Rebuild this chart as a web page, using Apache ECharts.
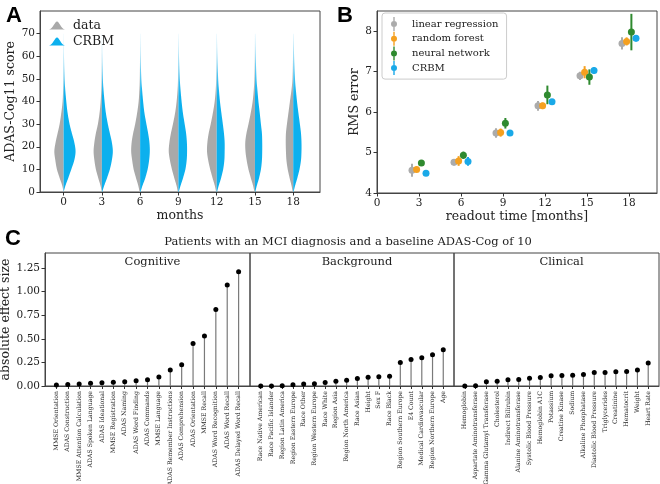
<!DOCTYPE html>
<html><head><meta charset="utf-8">
<script src="https://cdn.jsdelivr.net/npm/echarts/dist/echarts.min.js"></script>
<style>html,body{margin:0;padding:0;background:#fff}#c{width:660px;height:484px}</style>
</head><body><div id="c"></div>
<script>
// ---------- Panel A: violin data ----------
const months = [0, 3, 6, 9, 12, 15, 18];
const violinLevels = [0, 3, 6, 10, 14, 18, 22, 26, 30, 35, 40, 45, 50, 60, 70];
// relative density (half-width) at each level, one row per month
const densityData = [
  [0, 1.5, 3.8, 6.7, 8.3, 9.3, 8.0, 6.0, 4.0, 2.3, 1.0, 0.5, 0.2, 0, 0],
  [0, 1.5, 3.5, 6.0, 7.5, 8.3, 7.5, 6.0, 4.0, 2.3, 1.2, 0.6, 0.3, 0.1, 0],
  [0.5, 2.0, 4.0, 6.5, 8.0, 9.0, 8.5, 7.0, 5.0, 3.0, 1.5, 0.8, 0.4, 0.1, 0],
  [0.5, 2.0, 4.0, 6.5, 8.5, 9.7, 9.0, 7.5, 5.5, 3.3, 1.8, 0.9, 0.4, 0.1, 0],
  [0.5, 2.0, 4.0, 6.5, 8.5, 9.7, 9.3, 8.0, 6.0, 3.8, 2.0, 1.0, 0.5, 0.1, 0],
  [0.5, 2.0, 4.0, 6.5, 8.3, 9.5, 9.7, 8.5, 6.5, 4.2, 2.3, 1.2, 0.6, 0.15, 0],
  [0.5, 1.8, 3.5, 5.5, 6.8, 7.3, 7.5, 7.3, 6.3, 4.8, 3.3, 1.8, 0.8, 0.2, 0]
];
const densityCRBM = [
  [0, 2.0, 4.5, 7.7, 10.7, 12.0, 10.7, 8.3, 6.0, 4.0, 2.7, 1.7, 1.0, 0.4, 0.15],
  [0.3, 2.5, 5.0, 8.0, 10.0, 11.0, 10.0, 8.0, 6.0, 4.0, 2.7, 1.7, 1.0, 0.4, 0.15],
  [0.3, 2.5, 5.0, 7.5, 9.0, 9.7, 9.3, 8.0, 6.3, 4.3, 3.0, 2.0, 1.2, 0.5, 0.2],
  [0.3, 2.3, 4.5, 7.0, 8.3, 8.7, 8.5, 7.7, 6.3, 4.5, 3.2, 2.2, 1.4, 0.6, 0.2],
  [0.3, 2.2, 4.3, 6.5, 7.7, 8.0, 8.0, 7.3, 6.2, 4.7, 3.3, 2.3, 1.5, 0.7, 0.25],
  [0.3, 2.0, 4.0, 6.0, 7.0, 7.3, 7.3, 7.0, 6.0, 4.8, 3.5, 2.5, 1.6, 0.8, 0.3],
  [0.3, 2.0, 4.0, 6.3, 7.8, 8.3, 8.3, 7.8, 6.7, 5.2, 3.8, 2.7, 1.8, 0.9, 0.3]
];
const yTicksA = [0, 10, 20, 30, 40, 50, 60, 70];

// ---------- Panel B: RMS error ----------
const readoutMonths = [3, 6, 9, 12, 15, 18];
const rmsLinear = [4.56, 4.76, 5.48, 6.15, 6.89, 7.69];
const errLinear = [0.16, 0.08, 0.12, 0.12, 0.10, 0.15];
const rmsForest = [4.58, 4.79, 5.49, 6.15, 6.98, 7.74];
const errForest = [0.05, 0.12, 0.10, 0.08, 0.15, 0.10];
const rmsNeural = [4.74, 4.93, 5.72, 6.42, 6.86, 7.97];
const errNeural = [0.07, 0.09, 0.13, 0.23, 0.19, 0.45];
const rmsCRBM = [4.49, 4.78, 5.48, 6.25, 7.02, 7.82];
const errCRBM = [0.07, 0.11, 0.05, 0.07, 0.08, 0.08];
const xTicksB = [0, 3, 6, 9, 12, 15, 18];
const yTicksB = [4, 5, 6, 7, 8];

// ---------- Panel C: effect sizes ----------
const cogNames = ['MMSE Orientation','ADAS Construction','MMSE Attention Calculation','ADAS Spoken Language','ADAS Ideational','MMSE Registration','ADAS Naming','ADAS Word Finding','ADAS Commands','MMSE Language','ADAS Remember Instructions','ADAS Comprehension','ADAS Orientation','MMSE Recall','ADAS Word Recognition','ADAS Word Recall','ADAS Delayed Word Recall'];
const cogValues = [0.01,0.015,0.02,0.03,0.035,0.04,0.045,0.055,0.065,0.095,0.17,0.225,0.45,0.53,0.81,1.07,1.21];
const bgNames = ['Race Native American','Race Pacific Islander','Region Latin America','Region Eastern Europe','Race Other','Region Western Europe','Race White','Region Asia','Region North America','Race Asian','Height','Sex F','Race Black','Region Southern Europe','E4 Count','Medical Cardiovascular','Region Northern Europe','Age'];
const bgValues = [0.0,0.0,0.003,0.013,0.02,0.024,0.037,0.05,0.062,0.08,0.094,0.097,0.104,0.25,0.28,0.30,0.33,0.385];
const clinNames = ['Hemoglobin','Aspartate Aminotransferase','Gamma Glutamyl Transferase','Cholesterol','Indirect Bilirubin','Alanine Aminotransferase','Systolic Blood Pressure','Hemoglobin A1C','Potassium','Creatine Kinase','Sodium','Alkaline Phosphatase','Diastolic Blood Pressure','Triglycerides','Creatinine','Hematocrit','Weight','Heart Rate'];
const clinValues = [0.0,0.003,0.045,0.05,0.065,0.07,0.083,0.09,0.108,0.11,0.115,0.122,0.143,0.143,0.15,0.153,0.17,0.243];
const yTicksC = [0, 0.25, 0.5, 0.75, 1.0, 1.25];
const cTitle = 'Patients with an MCI diagnosis and a baseline ADAS-Cog of 10';

// ---------- styling ----------
const SERIF = 'DejaVu Serif';
const GREY = '#a9a9a9', BLUE = '#0cb0ee';
const GREY_FADE = '#e8e8e8', BLUE_FADE = '#c8ecfb';
const B_COLORS = ['#ababab', '#f5a01f', '#2f8a2f', '#1aa9e8'];
const B_OFFSETS = [-0.5, -0.17, 0.17, 0.5];
const DENSITY_TO_MONTHS = 1 / 12.8;

const chart = echarts.init(document.getElementById('c'), null, {renderer: 'canvas'});

function catmull(pts, seg) {
  const out = [];
  for (let i = 0; i < pts.length - 1; i++) {
    const p0 = pts[Math.max(0, i - 1)], p1 = pts[i], p2 = pts[i + 1], p3 = pts[Math.min(pts.length - 1, i + 2)];
    for (let s = 0; s < seg; s++) {
      const t = s / seg, t2 = t * t, t3 = t2 * t;
      const f = k => 0.5 * ((2 * p1[k]) + (-p0[k] + p2[k]) * t + (2 * p0[k] - 5 * p1[k] + 4 * p2[k] - p3[k]) * t2 + (-p0[k] + 3 * p1[k] - 3 * p2[k] + p3[k]) * t3);
      out.push([f(0), f(1)]);
    }
  }
  out.push(pts[pts.length - 1]);
  return out;
}

function violinRender(dens, side, color, fade) {
  return function (params, api) {
    const m = api.value(0), idx = api.value(1);
    const d = dens[idx];
    let start = 0;
    while (start < d.length - 1 && d[start] === 0 && d[start + 1] === 0) start++;
    let end = d.length - 1;
    while (end > 0 && d[end] === 0 && d[end - 1] === 0) end--;
    const edge = [];
    for (let j = start; j <= end; j++) {
      edge.push(api.coord([m + side * d[j] * DENSITY_TO_MONTHS, violinLevels[j]]));
    }
    const c = api.coord([m, 0])[0];
    const smooth = catmull(edge, 8).map(p => [side > 0 ? Math.max(p[0], c) : Math.min(p[0], c), p[1]]);
    smooth.push(api.coord([m, violinLevels[end]]));
    smooth.push(api.coord([m, violinLevels[start]]));
    const yTop = api.coord([m, 70])[1], yMid = api.coord([m, 42])[1];
    const fill = new echarts.graphic.LinearGradient(0, yTop, 0, yMid,
      [{offset: 0, color: fade}, {offset: 1, color: color}], true);
    return {type: 'polygon', shape: {points: smooth}, style: {fill: fill, stroke: null}};
  };
}

function errRender(vals, errs, off, color) {
  return function (params, api) {
    const i = params.dataIndex;
    const x = readoutMonths[i] + off;
    const a = api.coord([x, vals[i] - errs[i]]), b = api.coord([x, vals[i] + errs[i]]);
    return {type: 'line', shape: {x1: a[0], y1: a[1], x2: b[0], y2: b[1]}, style: {stroke: color, lineWidth: 2}};
  };
}

function stemRender(params, api) {
  const x = api.value(0), v = api.value(1);
  const base = api.coord([x, 0]), top = api.coord([x, v]);
  return {type: 'group', children: [
    {type: 'line', shape: {x1: base[0], y1: base[1], x2: top[0], y2: top[1]}, style: {stroke: '#7a7a7a', lineWidth: 1.2}},
    {type: 'circle', shape: {cx: top[0], cy: top[1], r: 2.5}, style: {fill: '#000'}}
  ]};
}

const axisLbl = {fontFamily: SERIF, fontSize: 10.5, color: '#222', margin: 5};
const tickStyle = {show: true, length: 3.5, lineStyle: {color: '#333'}};
const lineStyle = {show: true, onZero: false, lineStyle: {color: '#444', width: 1}};
const nameStyle = {fontFamily: SERIF, fontSize: 12.5, color: '#222'};

const gridBase = {show: true, borderColor: '#444', borderWidth: 1, containLabel: false, outerBoundsMode: 'none'};
const grids = [
  Object.assign({left: 40, top: 11, width: 280, height: 181}, gridBase),
  Object.assign({left: 377, top: 11, width: 280, height: 182}, gridBase),
  Object.assign({left: 45, top: 253, width: 205, height: 133}, gridBase),
  Object.assign({left: 250, top: 253, width: 204, height: 133}, gridBase),
  Object.assign({left: 454, top: 253, width: 205, height: 133}, gridBase)
];

function cXAxis(gi, names) {
  const idx = names.map((_, i) => i);
  return {type: 'value', gridIndex: gi, min: -1, max: names.length, splitLine: {show: false},
    axisLine: lineStyle, axisTick: {show: true, length: 3, customValues: idx, lineStyle: {color: '#333'}},
    axisLabel: {customValues: idx, rotate: 90, fontSize: 6.2, fontFamily: SERIF, color: '#222', margin: 5,
      formatter: v => names[Math.round(v)] || ''}};
}
function cYAxis(gi, showLabels) {
  return {type: 'value', gridIndex: gi, min: 0, max: 1.41, splitLine: {show: false},
    axisLine: showLabels ? lineStyle : {show: false, onZero: false},
    axisTick: showLabels ? Object.assign({customValues: yTicksC}, tickStyle) : {show: false},
    axisLabel: showLabels ? Object.assign({customValues: yTicksC, formatter: v => v.toFixed(2)}, axisLbl) : {show: false},
    name: showLabels ? 'absolute effect size' : '', nameLocation: 'middle', nameGap: 33, nameTextStyle: nameStyle};
}

const bSeriesNames = ['linear regression', 'random forest', 'neural network', 'CRBM'];
const bVals = [rmsLinear, rmsForest, rmsNeural, rmsCRBM];
const bErrs = [errLinear, errForest, errNeural, errCRBM];

const series = [
  {name: 'data', type: 'custom', xAxisIndex: 0, yAxisIndex: 0, itemStyle: {color: GREY},
    renderItem: violinRender(densityData, -1, GREY, GREY_FADE), data: months.map((m, i) => [m, i])},
  {name: 'CRBM', type: 'custom', xAxisIndex: 0, yAxisIndex: 0, itemStyle: {color: BLUE},
    renderItem: violinRender(densityCRBM, 1, BLUE, BLUE_FADE), data: months.map((m, i) => [m, i])}
];
bSeriesNames.forEach((n, k) => {
  series.push({type: 'custom', xAxisIndex: 1, yAxisIndex: 1, silent: true,
    renderItem: errRender(bVals[k], bErrs[k], B_OFFSETS[k], B_COLORS[k]),
    data: readoutMonths.map((m, i) => [m + B_OFFSETS[k], bVals[k][i]])});
  series.push({name: n + ' ', type: 'scatter', xAxisIndex: 1, yAxisIndex: 1, symbolSize: 7,
    itemStyle: {color: B_COLORS[k], opacity: 1},
    data: readoutMonths.map((m, i) => [m + B_OFFSETS[k], bVals[k][i]])});
});
[[cogValues, 2], [bgValues, 3], [clinValues, 4]].forEach(([vals, gi]) => {
  series.push({type: 'custom', xAxisIndex: gi, yAxisIndex: gi, renderItem: stemRender,
    data: vals.map((v, i) => [i, v])});
});

const errIcon = 'path://M4.3,0H5.7V14H4.3Z M2,7A3,3 0 1,1 8,7A3,3 0 1,1 2,7Z';
const moundIcon = 'path://M0,10C5,9.5 7,0 10,0C13,0 15,9.5 20,10Z';
const headStyle = {fontFamily: SERIF, fontWeight: 'normal', fontSize: 11.5, color: '#222'};
const letterStyle = {fontFamily: 'Liberation Sans', fontWeight: 'bold', fontSize: 22, color: '#000'};

const option = {
  animation: false,
  backgroundColor: '#fff',
  title: [
    {text: 'A', left: 1, top: 0, textStyle: letterStyle},
    {text: 'B', left: 332, top: 0, textStyle: letterStyle},
    {text: 'C', left: 0, top: 223, textStyle: letterStyle},
    {text: cTitle, left: 343, top: 231, textAlign: 'center', textStyle: headStyle},
    {text: 'Cognitive', left: 147.5, top: 251, textAlign: 'center', textStyle: headStyle},
    {text: 'Background', left: 352, top: 251, textAlign: 'center', textStyle: headStyle},
    {text: 'Clinical', left: 556.5, top: 251, textAlign: 'center', textStyle: headStyle}
  ],
  legend: [
    {orient: 'vertical', left: 44, top: 14, itemWidth: 20, itemHeight: 8, itemGap: 3,
      data: [{name: 'data', icon: moundIcon, itemStyle: {color: GREY}}, {name: 'CRBM', icon: moundIcon, itemStyle: {color: BLUE}}],
      textStyle: {fontFamily: SERIF, fontSize: 12.5, color: '#222', padding: [0, 0, 0, 1]}},
    {orient: 'vertical', left: 382, top: 13, itemWidth: 10, itemHeight: 14, itemGap: 0.7,
      padding: [4, 5, 4, 9], borderColor: '#cccccc', borderWidth: 1, borderRadius: 3, backgroundColor: '#fff',
      data: bSeriesNames.map(n => ({name: n + ' ', icon: errIcon})),
      textStyle: {fontFamily: SERIF, fontSize: 10, color: '#222', padding: [0, 0, 0, 8]}}
  ],
  grid: grids,
  xAxis: [
    {type: 'value', gridIndex: 0, min: -1.85, max: 20.1, splitLine: {show: false}, axisLine: lineStyle,
      axisTick: Object.assign({customValues: months}, tickStyle),
      axisLabel: Object.assign({customValues: months}, axisLbl),
      name: 'months', nameLocation: 'middle', nameGap: 14, nameTextStyle: nameStyle},
    {type: 'value', gridIndex: 1, min: 0, max: 20, splitLine: {show: false}, axisLine: lineStyle,
      axisTick: Object.assign({customValues: xTicksB}, tickStyle),
      axisLabel: Object.assign({customValues: xTicksB}, axisLbl),
      name: 'readout time [months]', nameLocation: 'middle', nameGap: 14, nameTextStyle: nameStyle},
    cXAxis(2, cogNames), cXAxis(3, bgNames), cXAxis(4, clinNames)
  ],
  yAxis: [
    {type: 'value', gridIndex: 0, min: 0, max: 80, splitLine: {show: false}, axisLine: lineStyle,
      axisTick: Object.assign({customValues: yTicksA}, tickStyle),
      axisLabel: Object.assign({customValues: yTicksA}, axisLbl),
      name: 'ADAS-Cog11 score', nameLocation: 'middle', nameGap: 14, nameTextStyle: nameStyle},
    {type: 'value', gridIndex: 1, min: 4, max: 8.49, splitLine: {show: false}, axisLine: lineStyle,
      axisTick: Object.assign({customValues: yTicksB}, tickStyle),
      axisLabel: Object.assign({customValues: yTicksB}, axisLbl),
      name: 'RMS error', nameLocation: 'middle', nameGap: 8, nameTextStyle: nameStyle},
    cYAxis(2, true), cYAxis(3, false), cYAxis(4, false)
  ],
  series: series
};
chart.setOption(option);
</script>
</body></html>
